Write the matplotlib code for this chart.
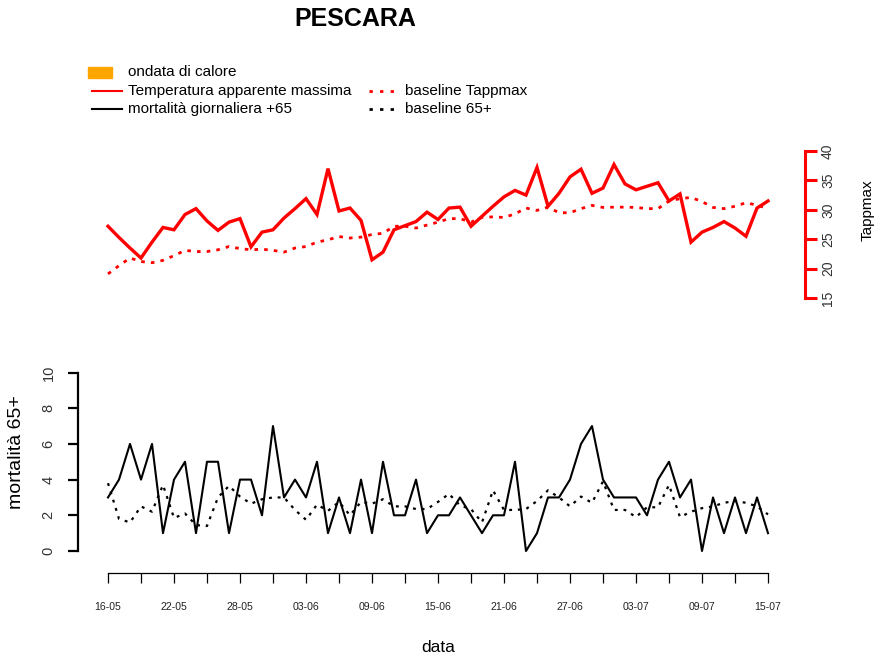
import numpy as np
import pandas as pd
import matplotlib
matplotlib.use("Agg")
import matplotlib.pyplot as plt
from matplotlib.lines import Line2D
from matplotlib.patches import Rectangle

plt.rcParams['font.family'] = ['Liberation Sans', 'DejaVu Sans']

# ---------------- data ----------------
dates = pd.date_range('2000-05-16', '2000-07-15', freq='D')
date_labels = [d.strftime('%d-%m') for d in dates]

tappmax = [27.2, 25.3, 23.5, 21.8, 24.5, 27.0, 26.6, 29.2, 30.2, 28.1,
           26.5, 27.9, 28.5, 23.7, 26.2, 26.6, 28.6, 30.2, 31.9, 29.2,
           37.0, 29.8, 30.3, 28.2, 21.5, 22.8, 26.6, 27.3, 28.0, 29.6,
           28.35, 30.3, 30.45, 27.2, 28.9, 30.6, 32.2, 33.3, 32.5, 37.2,
           30.6, 32.8, 35.6, 36.9, 32.8, 33.7, 37.7, 34.4, 33.4, 34.0,
           34.6, 31.5, 32.7, 24.5, 26.2, 27.0, 28.0, 26.9, 25.5, 30.3,
           31.5]

baseline_tapp = [19.1, 20.5, 21.8, 21.2, 21.0, 21.4, 22.2, 23.1, 22.9, 22.9,
                 23.2, 23.75, 23.4, 23.2, 23.3, 23.1, 22.8, 23.5, 23.75, 24.5,
                 24.9, 25.45, 25.2, 25.35, 25.8, 26.0, 27.2, 27.2, 26.9, 27.4,
                 27.9, 28.5, 28.5, 27.9, 28.7, 28.8, 28.7, 29.3, 30.3, 29.9,
                 30.45, 29.5, 29.5, 30.2, 30.75, 30.4, 30.45, 30.45, 30.4, 30.2,
                 30.2, 31.5, 31.9, 32.1, 31.4, 30.4, 30.2, 30.6, 31.2, 30.8,
                 30.2]

mortality = [3, 4, 6, 4, 6, 1, 4, 5, 1, 5,
             5, 1, 4, 4, 2, 7, 3, 4, 3, 5,
             1, 3, 1, 4, 1, 5, 2, 2, 4, 1,
             2, 2, 3, 2, 1, 2, 2, 5, 0, 1,
             3, 3, 4, 6, 7, 4, 3, 3, 3, 2,
             4, 5, 3, 4, 0, 3, 1, 3, 1, 3,
             1]

baseline_65 = [3.8, 1.8, 1.6, 2.5, 2.2, 3.7, 1.85, 2.1, 1.45, 1.4,
               3.0, 3.65, 3.05, 2.65, 2.9, 3.0, 3.0, 2.3, 1.75, 2.6,
               2.25, 2.75, 2.0, 2.75, 2.65, 2.9, 2.5, 2.5, 2.35, 2.35,
               2.75, 3.2, 2.55, 2.35, 1.6, 3.4, 2.3, 2.3, 2.35, 2.8,
               3.4, 3.0, 2.5, 3.05, 2.7, 3.9, 2.3, 2.3, 1.9, 2.45,
               2.45, 3.7, 1.9, 2.2, 2.4, 2.5, 2.7, 2.8, 2.7, 2.5,
               2.05]

tapp_ticks = [15, 20, 25, 30, 35, 40]
mort_ticks = [0, 2, 4, 6, 8, 10]

# ---------------- layout ----------------
W, H = 878, 657
fig = plt.figure(figsize=(W / 100, H / 100), dpi=100)

def rect(x0, x1, ytop, ybot):
    return [x0 / W, 1 - ybot / H, (x1 - x0) / W, (ybot - ytop) / H]

x = np.arange(len(dates))
RED = '#ff0000'

# upper panel (Tappmax)
ax1 = fig.add_axes(rect(108, 768, 151, 298))
ax1.set_xlim(0, 60)
ax1.set_ylim(15, 40)
ax1.plot(x, baseline_tapp, color=RED, lw=2.0, ls=(0, (1.3, 2.2)), clip_on=False)
ax1.plot(x, tappmax, color=RED, lw=2.4, clip_on=False, solid_joinstyle='miter')
for s in ['top', 'left', 'bottom']:
    ax1.spines[s].set_visible(False)
ax1.spines['right'].set_position(('axes', (805 - 108) / 660))
ax1.spines['right'].set_bounds(15, 40)
ax1.spines['right'].set_color(RED)
ax1.spines['right'].set_linewidth(2.2)
ax1.set_xticks([])
ax1.yaxis.tick_right()
ax1.set_yticks(tapp_ticks)
ax1.set_yticklabels([str(t) for t in tapp_ticks], rotation=90, va='center')
ax1.tick_params(axis='y', direction='out', length=8.6, width=2.2, color=RED,
                labelsize=10, labelcolor='#333333', pad=3)
ax1.patch.set_visible(False)

# lower panel (mortality)
ax2 = fig.add_axes(rect(108, 768, 372.5, 551))
ax2.set_xlim(0, 60)
ax2.set_ylim(0, 10)
ax2.plot(x, baseline_65, color='black', lw=1.6, ls=(0, (1.3, 2.6)), clip_on=False)
ax2.plot(x, mortality, color='black', lw=1.5, clip_on=False)
for s in ['top', 'right']:
    ax2.spines[s].set_visible(False)
ax2.spines['left'].set_position(('axes', (78 - 108) / 660))
ax2.spines['left'].set_bounds(0, 10)
ax2.spines['left'].set_linewidth(1.6)
ax2.set_yticks(mort_ticks)
ax2.set_yticklabels([str(t) for t in mort_ticks], rotation=90, va='center')
ax2.tick_params(axis='y', direction='out', length=7.2, width=1.6,
                labelsize=10.5, labelcolor='#333333', pad=9)
ax2.spines['bottom'].set_position(('outward', 22 * 0.72))
ax2.spines['bottom'].set_bounds(0, 60)
ax2.spines['bottom'].set_linewidth(0.9)
xt = list(range(0, 61, 3))
ax2.set_xticks(xt)
ax2.set_xticklabels([date_labels[i] if i % 6 == 0 else '' for i in xt])
ax2.tick_params(axis='x', direction='out', length=7.2, width=0.9,
                labelsize=7.6, labelcolor='#222222', pad=14)
ax2.patch.set_visible(False)

# texts
fig.text(355 / W, 1 - 19 / H, 'PESCARA', ha='center', va='center',
         fontsize=18, fontweight='bold')
fig.text(17 / W, 1 - 452 / H, 'mortalità 65+', rotation=90, ha='center',
         va='center', fontsize=14)
fig.text(438 / W, 1 - 647 / H, 'data', ha='center', va='center', fontsize=12.5)
fig.text(868 / W, 1 - 210 / H, 'Tappmax', rotation=90, ha='center',
         va='center', fontsize=11)

# legend (manual, like R)
def fx(px):
    return px / W

def fy(py):
    return 1 - py / H

fig.patches.append(Rectangle((fx(88), fy(78)), 24 / W, 11 / H, color='#ffa500',
                             transform=fig.transFigure, figure=fig))
leg_fs = 11
fig.text(fx(128), fy(72), 'ondata di calore', va='center', fontsize=leg_fs)
fig.lines.append(Line2D([fx(92), fx(122)], [fy(91), fy(91)], color=RED, lw=1.5,
                        transform=fig.transFigure, figure=fig))
fig.text(fx(128), fy(91), 'Temperatura apparente massima', va='center', fontsize=leg_fs)
fig.lines.append(Line2D([fx(92), fx(122)], [fy(109), fy(109)], color='black', lw=1.5,
                        transform=fig.transFigure, figure=fig))
fig.text(fx(128), fy(109), 'mortalità giornaliera +65', va='center', fontsize=leg_fs)
fig.lines.append(Line2D([fx(369), fx(399)], [fy(91), fy(91)], color=RED, lw=2.0,
                        ls=(0, (1.2, 2.6)), transform=fig.transFigure, figure=fig))
fig.text(fx(405), fy(91), 'baseline Tappmax', va='center', fontsize=leg_fs)
fig.lines.append(Line2D([fx(369), fx(399)], [fy(109), fy(109)], color='black', lw=2.0,
                        ls=(0, (1.2, 2.6)), transform=fig.transFigure, figure=fig))
fig.text(fx(405), fy(109), 'baseline 65+', va='center', fontsize=leg_fs)

fig.savefig('out.png', dpi=100)
